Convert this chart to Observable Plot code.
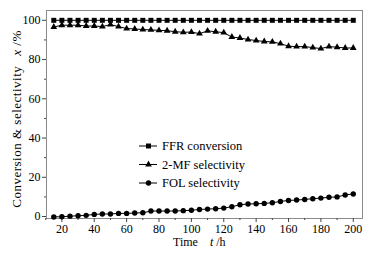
<!DOCTYPE html>
<html>
<head>
<meta charset="utf-8">
<script src="https://cdn.jsdelivr.net/npm/d3@7"></script>
<script src="https://cdn.jsdelivr.net/npm/@observablehq/plot@0.6"></script>
<style>
  html, body { margin: 0; padding: 0; background: #fff; }
  svg { display: block; }
  svg text, svg tspan { font-family: "Times New Roman", "Liberation Serif", "DejaVu Serif", serif !important; font-weight: normal; }
</style>
</head>
<body>
<div id="chart"></div>
<script>
const times = [15, 20, 25, 30, 35, 40, 45, 50, 55, 60, 65, 70, 75, 80, 85, 90, 95, 100,
  105, 110, 115, 120, 125, 130, 135, 140, 145, 150, 155, 160, 165, 170, 175, 180, 185, 190, 195, 200];
const ffrConversion = [100, 100, 100, 100, 100, 100, 100, 100, 100, 100, 100, 100, 100, 100, 100, 100, 100, 100,
  100, 100, 100, 100, 100, 100, 100, 100, 100, 100, 100, 100, 100, 100, 100, 100, 100, 100, 100, 100];
const mfSelectivity = [96.6, 97.5, 97.5, 97.5, 97.1, 97.1, 96.8, 97.8, 96.8, 95.8, 95.6, 95.3, 95.1, 94.9, 94.7, 94.2, 93.9,
  94.0, 93.2, 94.6, 94.2, 93.7, 91.5, 91.0, 90.2, 89.7, 89.2, 89.0, 88.1, 86.8, 86.6, 86.6, 86.1, 85.6, 86.6, 86.3, 85.9, 85.9];
const folSelectivity = [-0.2, -0.1, 0.2, 0.4, 0.6, 1.1, 1.3, 1.3, 1.6, 1.6, 1.8, 1.9, 2.8, 2.8, 2.8, 2.8, 3.0,
  3.2, 3.6, 3.8, 4.0, 4.3, 5.0, 6.0, 6.4, 6.5, 6.7, 7.0, 7.7, 8.2, 8.4, 8.7, 9.1, 9.4, 9.8, 10.0, 11.0, 11.5];
const seriesNames = ["FFR conversion", "2-MF selectivity", "FOL selectivity"];
const seriesSymbols = ["square", "triangle", "circle"];
const xTicks = [20, 40, 60, 80, 100, 120, 140, 160, 180, 200];
const xMinorTicks = [10, 30, 50, 70, 90, 110, 130, 150, 170, 190];
const yTicks = [0, 20, 40, 60, 80, 100];
const yMinorTicks = [10, 30, 50, 70, 90];

const seriesValues = [ffrConversion, mfSelectivity, folSelectivity];
const rows = seriesNames.flatMap((name, i) =>
  times.map((t, j) => ({ t, v: seriesValues[i][j], s: name, sym: seriesSymbols[i] })));
const symbolSize = { "square": 2.8, "triangle": 2.5, "circle": 2.7 };

const font = "'Times New Roman', 'Liberation Serif', 'DejaVu Serif', serif";

const marks = [
  Plot.frame({ stroke: "#8a8a8a" }),
  Plot.axisX({ ticks: xTicks, tickSize: 4, tickPadding: 2, label: null, stroke: "#444", fill: "#000", fontSize: 12 }),
  Plot.axisX({ ticks: xMinorTicks, tickSize: 2, text: null, label: null, stroke: "#444" }),
  Plot.axisY({ ticks: yTicks, tickSize: 4, tickPadding: 2, label: null, stroke: "#444", fill: "#000", fontSize: 12 }),
  Plot.axisY({ ticks: yMinorTicks, tickSize: 2, text: null, label: null, stroke: "#444" })
];
seriesNames.forEach((name, i) => {
  const d = rows.filter(r => r.s === name);
  marks.push(Plot.line(d, { x: "t", y: "v", stroke: "#000", strokeWidth: 1 }));
  marks.push(Plot.dot(d, { x: "t", y: "v", symbol: () => seriesSymbols[i], r: symbolSize[seriesSymbols[i]], fill: "#000", stroke: "none" }));
});

const chart = Plot.plot({
  width: 379,
  height: 253,
  marginLeft: 46,
  marginRight: 17,
  marginTop: 10,
  marginBottom: 35,
  style: { fontFamily: font, fontSize: "12px", background: "#fff", color: "#000" },
  x: { domain: [10.5, 205.7] },
  y: { domain: [-1, 105] },
  symbol: { type: "identity" },
  marks
});

document.getElementById("chart").appendChild(chart);

// Axis titles and legend drawn into the same SVG
const svg = d3.select(chart);
const g = svg.append("g").attr("font-family", font).attr("font-size", 12).attr("fill", "#000")
  .attr("text-anchor", "start");

// y title
const yt = g.append("text")
  .attr("transform", "translate(21,119) rotate(-90)")
  .attr("text-anchor", "middle")
  .attr("font-size", 13)
  .attr("letter-spacing", 0.5);
yt.append("tspan").text("Conversion & selectivity");
yt.append("tspan").attr("dx", 10).attr("font-style", "italic").text("x");
yt.append("tspan").text(" /%");

// x title
const xt = g.append("text").attr("x", 173).attr("y", 246);
xt.append("tspan").text("Time");
xt.append("tspan").attr("dx", 12).attr("font-style", "italic").text("t");
xt.append("tspan").text(" /h");

// legend
const legendRows = [146, 164.5, 183];
seriesNames.forEach((name, i) => {
  const y = legendRows[i];
  g.append("line").attr("x1", 139).attr("x2", 157).attr("y1", y).attr("y2", y)
    .attr("stroke", "#000").attr("stroke-width", 1);
  const sym = { square: d3.symbolSquare, triangle: d3.symbolTriangle, circle: d3.symbolCircle }[seriesSymbols[i]];
  const r = symbolSize[seriesSymbols[i]];
  g.append("path").attr("transform", `translate(148.5,${y})`)
    .attr("d", d3.symbol(sym, Math.PI * r * r)()).attr("fill", "#000");
  g.append("text").attr("x", 162).attr("y", y).attr("dy", "0.35em").attr("font-size", 12.5).text(name);
});
</script>
</body>
</html>
